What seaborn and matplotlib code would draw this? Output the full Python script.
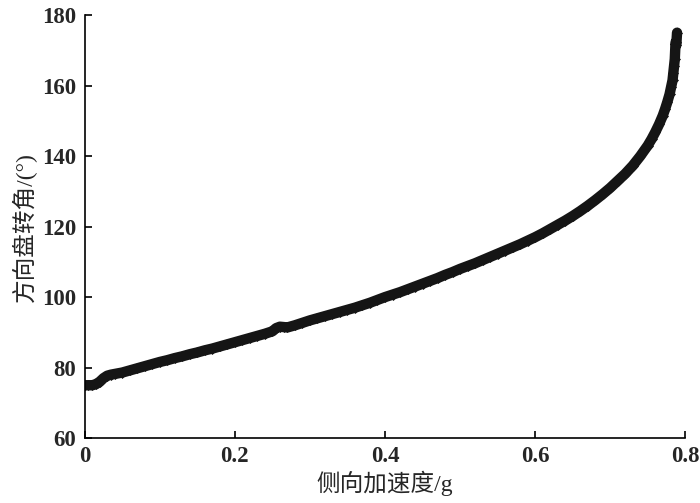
import matplotlib
matplotlib.use("Agg")
import matplotlib.pyplot as plt
import seaborn as sns
import pandas as pd

# lateral acceleration (g) and steering wheel angle (deg)
accel = [0.000, 0.005, 0.010, 0.015, 0.020, 0.025, 0.030, 0.035, 0.040, 0.050,
         0.060, 0.070, 0.080, 0.090, 0.100, 0.110, 0.120, 0.130, 0.140, 0.150,
         0.160, 0.170, 0.180, 0.190, 0.200, 0.210, 0.220, 0.230, 0.240, 0.250,
         0.255, 0.260, 0.265, 0.270, 0.280, 0.290, 0.300, 0.310, 0.320, 0.330,
         0.340, 0.350, 0.360, 0.370, 0.380, 0.390, 0.400, 0.410, 0.420, 0.430,
         0.440, 0.450, 0.460, 0.470, 0.480, 0.490, 0.500, 0.510, 0.520, 0.530,
         0.540, 0.550, 0.560, 0.570, 0.580, 0.590, 0.600, 0.610, 0.620, 0.630,
         0.640, 0.650, 0.660, 0.670, 0.680, 0.690, 0.700, 0.710, 0.720, 0.730,
         0.740, 0.750, 0.755, 0.760, 0.765, 0.770, 0.773, 0.776, 0.779, 0.781,
         0.783, 0.784, 0.785, 0.786, 0.787, 0.788, 0.789, 0.787, 0.789]
angle = [75.0, 75.0, 75.0, 75.3, 76.0, 77.0, 77.7, 78.0, 78.2, 78.6,
         79.2, 79.8, 80.4, 81.0, 81.6, 82.1, 82.7, 83.2, 83.8, 84.3,
         84.9, 85.4, 86.0, 86.6, 87.2, 87.8, 88.4, 89.0, 89.6, 90.3,
         91.2, 91.6, 91.5, 91.4, 92.0, 92.7, 93.4, 94.0, 94.6, 95.2,
         95.8, 96.4, 97.0, 97.7, 98.4, 99.2, 100.0, 100.7, 101.4, 102.2,
         103.0, 103.8, 104.6, 105.4, 106.3, 107.1, 108.0, 108.8, 109.6, 110.5,
         111.4, 112.3, 113.2, 114.1, 115.0, 116.0, 117.0, 118.1, 119.3, 120.5,
         121.7, 123.0, 124.4, 125.9, 127.5, 129.2, 131.0, 133.0, 135.0, 137.3,
         140.0, 143.0, 144.8, 146.8, 149.0, 151.5, 153.3, 155.3, 157.5, 159.5,
         161.5, 163.5, 165.5, 167.5, 169.5, 171.5, 173.5, 175.0, 176.5]

x_ticks = [0, 0.2, 0.4, 0.6, 0.8]
x_tick_labels = ["0", "0.2", "0.4", "0.6", "0.8"]
y_ticks = [60, 80, 100, 120, 140, 160, 180]

df = pd.DataFrame({"accel": accel, "angle": angle})

sns.set_style("ticks")
plt.rcParams["font.family"] = ["Liberation Serif", "Noto Sans CJK SC", "DejaVu Sans"]

fig = plt.figure(figsize=(7.0, 5.03), dpi=100)
ax = fig.add_axes([0.121, 0.129, 0.858, 0.841])

sns.lineplot(data=df, x="accel", y="angle", sort=False, ax=ax, color="#151515",
             linewidth=7.5, marker="D", markersize=5, markerfacecolor="#151515",
             markeredgecolor="#151515", markeredgewidth=0.5)

ax.set_xlim(0, 0.8)
ax.set_ylim(60, 180)
ax.set_xticks(x_ticks)
ax.set_xticklabels(x_tick_labels)
ax.set_yticks(y_ticks)
ax.tick_params(direction="in", length=5, width=1.2, labelsize=16.5, pad=6, color="black")
for lab in ax.get_xticklabels() + ax.get_yticklabels():
    lab.set_fontweight("bold")

sns.despine(ax=ax)
for side in ["left", "bottom"]:
    ax.spines[side].set_linewidth(1.2)
    ax.spines[side].set_color("black")

ax.set_xlabel("侧向加速度/g", fontsize=17, labelpad=2)
ax.set_ylabel("方向盘转角/(°)", fontsize=17, labelpad=4)

fig.savefig("out.png", dpi=100)
